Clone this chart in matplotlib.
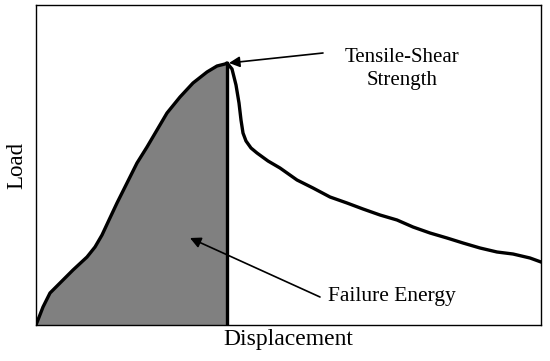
import numpy as np
import matplotlib.pyplot as plt

# load-displacement curve (arbitrary units)
displacement = [0, 7, 14, 24, 37, 51, 59, 66, 73, 81, 91, 101, 111, 121, 131,
                144, 157, 171, 181, 189, 191,
                196, 200, 203, 205, 207, 210, 215, 221, 232, 244, 261, 277, 294,
                311, 327, 344, 361, 377, 394, 411, 427, 444, 461, 477, 494, 505]
load = [0, 18, 32, 42, 55, 68, 78, 90, 105, 122, 142, 162, 178, 195, 212,
        228, 242, 253, 259, 261, 262,
        256, 240, 222, 205, 192, 184, 177, 172, 164, 157, 145, 137, 128,
        122, 116, 110, 105, 98, 92, 87, 82, 77, 73, 71, 67, 63]

disp = np.array(displacement)
ld = np.array(load)
ipk = int(np.argmax(ld))

plt.rcParams['font.family'] = ['Liberation Serif', 'DejaVu Serif']

fig = plt.figure(figsize=(5.5, 3.61), dpi=100)
ax = fig.add_axes([36/550, 36/361, 505/550, 320/361])

# shaded failure energy up to the peak
ax.fill_between(disp[:ipk+1], 0, ld[:ipk+1], color='#808080', lw=0)
ax.plot(disp, ld, color='black', lw=2.4, solid_joinstyle='round')
ax.plot([disp[ipk], disp[ipk]], [0, ld[ipk]], color='black', lw=2.4)

ax.set_xlim(0, 505)
ax.set_ylim(0, 320)
ax.set_xticks([])
ax.set_yticks([])
for s in ax.spines.values():
    s.set_linewidth(1.0)

ax.set_xlabel('Displacement', fontsize=17, labelpad=3)
ax.set_ylabel('Load', fontsize=16.5, labelpad=6)

arrow = dict(arrowstyle='-|>', color='black', lw=1.2, mutation_scale=16,
             shrinkA=0, shrinkB=0)
ax.annotate('', xy=(disp[ipk] + 2, ld[ipk]), xytext=(287, 272), arrowprops=arrow)
ax.text(366, 256, 'Tensile-Shear\nStrength', fontsize=15, ha='center', va='center',
        linespacing=1.35)

ax.annotate('', xy=(154, 87), xytext=(284, 28), arrowprops=arrow)
ax.text(292, 28, 'Failure Energy', fontsize=15.5, ha='left', va='center')

fig.savefig('out.png', dpi=100)
